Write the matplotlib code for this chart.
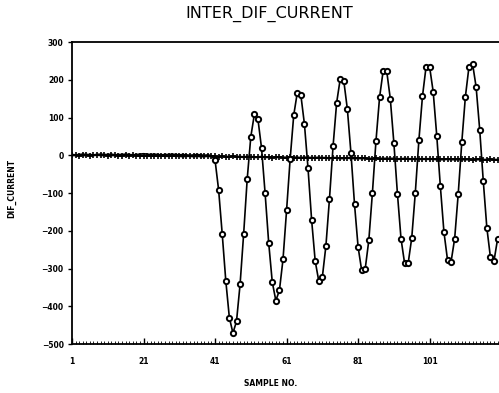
import numpy as np
import matplotlib
matplotlib.use("Agg")
import matplotlib.pyplot as plt
from matplotlib.ticker import MultipleLocator, FixedLocator

# Données
samples = np.arange(1, 121)

dif_current = [
    2, 1, 2, 3, 2, 2, 1, 2, 3, 2,
    2, 3, 1, 2, 2, 3, 2, 1, 2, 3,
    4, 3, 2, 3, 2, 1, 2, 2, 3, 2,
    1, 2, 1, 0, 1, 2, 1, 0, 1, -1,
    -13, -92, -208, -332, -430, -471, -440, -342, -208, -62,
    49, 109, 95, 19, -101, -232, -336, -385, -358, -276,
    -146, -10, 106, 166, 159, 82, -35, -171, -280, -333,
    -323, -240, -115, 24, 139, 202, 197, 122, 6, -130,
    -243, -305, -300, -225, -100, 38, 153, 223, 223, 150,
    33, -102, -221, -286, -286, -219, -99, 40, 156, 234,
    234, 168, 51, -82, -203, -277, -282, -221, -102, 35,
    155, 234, 243, 181, 68, -68, -192, -270, -280, -222,
]

restraint = [
    0, 0, -1, 0, 0, -1, 0, 1, 0, 0,
    -1, 0, 0, -1, -1, 0, -1, 0, -1, -1,
    -1, -2, -1, -1, -2, -1, -2, -2, -1, -2,
    -2, -3, -2, -2, -3, -2, -3, -3, -2, -3,
    -3, -4, -3, -4, -4, -3, -4, -4, -5, -4,
    -4, -5, -5, -4, -5, -5, -6, -5, -5, -6,
    -6, -5, -6, -6, -7, -6, -6, -7, -7, -6,
    -7, -7, -8, -7, -7, -8, -8, -7, -8, -8,
    -8, -8, -8, -9, -9, -8, -9, -9, -9, -9,
    -9, -10, -10, -9, -10, -10, -10, -10, -10, -10,
    -10, -10, -11, -11, -11, -10, -11, -11, -11, -11,
    -11, -11, -12, -11, -11, -12, -12, -11, -12, -12,
]

x_ticks = [1, 21, 41, 61, 81, 101]
y_ticks = [-500, -400, -300, -200, -100, 0, 100, 200, 300]

fig = plt.figure(figsize=(4.99, 3.93), dpi=100)
ax = fig.add_axes([72 / 499, 1 - 344 / 393, 1 - 72 / 499, (344 - 42) / 393])

ax.plot(samples, restraint, color="black", lw=1.6, marker="+",
        markersize=4.5, markeredgewidth=1.2)
# les marqueurs des 40 premiers points se confondent avec la bande à zéro
ax.plot(samples, dif_current, color="black", lw=1.2, marker="o",
        markersize=3.8, markerfacecolor="white", markeredgecolor="black",
        markeredgewidth=1.4, markevery=list(range(40, 120)))

ax.set_xlim(1, 120.4)
ax.set_ylim(-500, 300)

ax.xaxis.set_major_locator(FixedLocator(x_ticks))
ax.xaxis.set_minor_locator(MultipleLocator(1))
ax.set_yticks(y_ticks)

ax.tick_params(axis="x", which="major", direction="in", length=4, width=1,
               pad=9, labelsize=5.5)
ax.tick_params(axis="x", which="minor", direction="in", length=2, width=0.6)
ax.tick_params(axis="y", direction="out", length=3, width=1, pad=3,
               labelsize=5.5)
for lab in ax.get_xticklabels() + ax.get_yticklabels():
    lab.set_fontweight("heavy")

for side in ["left", "top", "bottom"]:
    ax.spines[side].set_linewidth(1.3)
ax.spines["right"].set_visible(False)

fig.text(269 / 499, 1 - 14 / 393, "INTER_DIF_CURRENT", ha="center",
         va="center", fontsize=11.5, color="black")
fig.text(271 / 499, 1 - 383 / 393, "SAMPLE NO.", ha="center", va="center",
         fontsize=5.5, fontweight="bold")
fig.text(12 / 499, 1 - 188 / 393, "DIF_CURRENT", ha="center", va="center",
         rotation=90, fontsize=5.5, fontweight="bold")

plt.savefig("out.png", dpi=100)
plt.close()
